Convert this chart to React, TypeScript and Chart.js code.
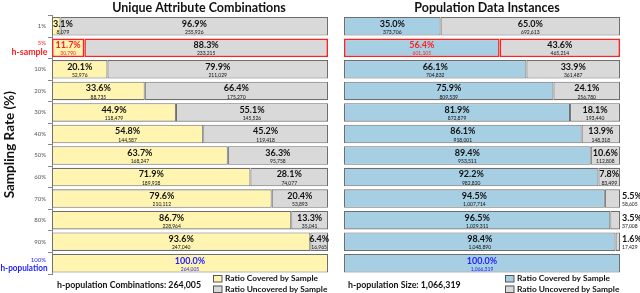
import React, { useEffect, useRef } from 'react';
import { Chart, registerables } from 'chart.js';
Chart.register(...registerables);

const rates = ['1%', '5%', '10%', '20%', '30%', '40%', '50%', '60%', '70%', '80%', '90%', '100%'];

const comboCoveredPct = [3.1, 11.7, 20.1, 33.6, 44.9, 54.8, 63.7, 71.9, 79.6, 86.7, 93.6, 100.0];
const comboUncoveredPct = [96.9, 88.3, 79.9, 66.4, 55.1, 45.2, 36.3, 28.1, 20.4, 13.3, 6.4, 0];
const comboCoveredCount = [8079, 30790, 52976, 88735, 118479, 144587, 168247, 189928, 210112, 228964, 247040, 264005];
const comboUncoveredCount = [255926, 233215, 211029, 175270, 145526, 119418, 95758, 74077, 53893, 35041, 16965, 0];

const instCoveredPct = [35.0, 56.4, 66.1, 75.9, 81.9, 86.1, 89.4, 92.2, 94.5, 96.5, 98.4, 100.0];
const instUncoveredPct = [65.0, 43.6, 33.9, 24.1, 18.1, 13.9, 10.6, 7.8, 5.5, 3.5, 1.6, 0];
const instCoveredCount = [373706, 601105, 704832, 809539, 872879, 918001, 953511, 982820, 1007714, 1029311, 1048890, 1066319];
const instUncoveredCount = [692613, 465214, 361487, 256780, 193440, 148318, 112808, 83499, 58605, 37008, 17429, 0];

const comboTotal = 264005;
const instTotal = 1066319;

const FONT = 'Lato, "Open Sans", sans-serif';
const YELLOW = '#fff5b1';
const GRAY = '#d9d9d9';
const BLUE = '#a6cfe3';
const EDGE = '#6e6e6e';
const RED = '#ff2020';
const BLUEFONT = '#2222ff';
const SAMPLE_IDX = 1;
const POP_IDX = 11;

const fmt = (n: number) => n.toLocaleString('en-US');

function borderColors() {
  return rates.map((_, i) => (i === SAMPLE_IDX ? RED : EDGE));
}
function borderWidths() {
  return rates.map((_, i) => (i === SAMPLE_IDX ? 1.6 : 1.1));
}

interface PanelCfg {
  title: string;
  titleX: number;
  coveredPct: number[];
  uncoveredPct: number[];
  coveredCount: number[];
  uncoveredCount: number[];
  allowOutside: boolean;
  fill: string;
  isLeft: boolean;
  footer: string;
  footerX: number;
  legendX: number;
}

const PCT_FONT = `bold 9px ${FONT}`;

function drawPair(ctx: CanvasRenderingContext2D, cx: number, yc: number, pct: string, cnt: string, color: string, align: CanvasTextAlign) {
  ctx.save();
  ctx.fillStyle = color;
  ctx.textAlign = align;
  ctx.textBaseline = 'middle';
  ctx.font = PCT_FONT;
  ctx.fillText(pct, cx, yc - 2.5);
  ctx.font = `5px ${FONT}`;
  ctx.fillText(cnt, cx, yc + 6);
  ctx.restore();
}

// right-aligned text, horizontally condensed to at most maxW
function drawNarrowRight(ctx: CanvasRenderingContext2D, text: string, x: number, y: number, maxW: number) {
  const w = ctx.measureText(text).width;
  const sx = w > maxW ? maxW / w : 1;
  ctx.save();
  ctx.translate(x, y);
  ctx.scale(sx, 1);
  ctx.textAlign = 'right';
  ctx.fillText(text, 0, 0);
  ctx.restore();
}

function makePlugin(cfg: PanelCfg) {
  return {
    id: 'panelDecor',
    afterDatasetsDraw(chart: any) {
      const ctx: CanvasRenderingContext2D = chart.ctx;
      const area = chart.chartArea;
      const xs = chart.scales.x;
      const ys = chart.scales.y;
      const x0 = xs.getPixelForValue(0);
      const x2 = xs.getPixelForValue(100);
      rates.forEach((_, i) => {
        const yc = ys.getPixelForValue(i);
        const x1 = xs.getPixelForValue(cfg.coveredPct[i]);
        const covColor = i === SAMPLE_IDX ? RED : i === POP_IDX ? BLUEFONT : '#111';
        const pctA = cfg.coveredPct[i].toFixed(1) + '%';
        const cntA = fmt(cfg.coveredCount[i]);
        ctx.font = PCT_FONT;
        const twA = ctx.measureText(pctA).width;
        let cxA = (x0 + x1) / 2;
        if (x1 - x0 < twA + 2) cxA = Math.max(cxA, x0 + twA / 2 + 1);
        drawPair(ctx, cxA, yc, pctA, cntA, covColor, 'center');
        if (cfg.uncoveredPct[i] > 0) {
          const pctB = cfg.uncoveredPct[i].toFixed(1) + '%';
          const cntB = fmt(cfg.uncoveredCount[i]);
          ctx.font = PCT_FONT;
          const twB = ctx.measureText(pctB).width;
          if (cfg.allowOutside && x2 - x1 < twB) {
            drawPair(ctx, x2 + 2, yc, pctB, cntB, '#111', 'left');
          } else {
            drawPair(ctx, (x1 + x2) / 2, yc, pctB, cntB, '#111', 'center');
          }
        }
      });

      // title
      ctx.save();
      ctx.fillStyle = '#111';
      ctx.textAlign = 'center';
      ctx.textBaseline = 'middle';
      ctx.font = `bold 12.5px ${FONT}`;
      ctx.fillText(cfg.title, cfg.titleX, 7.5);
      ctx.restore();

      if (cfg.isLeft) {
        // special y tick labels
        const lx = area.left - 6;
        ctx.save();
        ctx.textAlign = 'right';
        ctx.textBaseline = 'middle';
        let yc = ys.getPixelForValue(SAMPLE_IDX);
        ctx.fillStyle = RED;
        ctx.font = `6px ${FONT}`;
        ctx.fillText(rates[SAMPLE_IDX], lx, yc - 5);
        ctx.font = `bold 9px ${FONT}`;
        drawNarrowRight(ctx, 'h-sample', lx + 1.5, yc + 4.5, 36);
        yc = ys.getPixelForValue(POP_IDX);
        ctx.fillStyle = BLUEFONT;
        ctx.font = `6px ${FONT}`;
        ctx.fillText(rates[POP_IDX], lx, yc - 3.5);
        ctx.font = `bold 9px ${FONT}`;
        drawNarrowRight(ctx, 'h-population', lx + 1.5, yc + 4.5, 47);
        ctx.restore();

        // y axis title
        ctx.save();
        ctx.translate(10, (area.top + area.bottom) / 2);
        ctx.rotate(-Math.PI / 2);
        ctx.textAlign = 'center';
        ctx.textBaseline = 'middle';
        ctx.fillStyle = '#111';
        ctx.font = `bold 13.5px ${FONT}`;
        ctx.fillText('Sampling Rate (%)', 0, 0);
        ctx.restore();
      }

      // footer text
      ctx.save();
      ctx.fillStyle = '#111';
      ctx.textAlign = 'left';
      ctx.textBaseline = 'middle';
      ctx.font = `bold 8.8px ${FONT}`;
      ctx.fillText(cfg.footer, cfg.footerX, 285.5);
      // legend
      const items = [
        { c: cfg.fill, t: 'Ratio Covered by Sample', y: 278.5 },
        { c: GRAY, t: 'Ratio Uncovered by Sample', y: 289 },
      ];
      items.forEach((it) => {
        ctx.fillStyle = it.c;
        ctx.fillRect(cfg.legendX, it.y - 3.5, 9, 7);
        ctx.strokeStyle = '#555';
        ctx.lineWidth = 1;
        ctx.strokeRect(cfg.legendX + 0.5, it.y - 3.5 + 0.5, 8.5, 6.5);
        ctx.fillStyle = '#111';
        ctx.font = `bold 8.4px ${FONT}`;
        ctx.fillText(it.t, cfg.legendX + 12, it.y);
      });
      ctx.restore();
    },
  };
}

function Panel({ cfg, width, left, padLeft, padRight }: { cfg: PanelCfg; width: number; left: number; padLeft: number; padRight: number }) {
  const ref = useRef<HTMLCanvasElement | null>(null);
  useEffect(() => {
    if (!ref.current) return;
    const chart = new Chart(ref.current, {
      type: 'bar',
      data: {
        labels: rates,
        datasets: [
          {
            label: 'Ratio Covered by Sample',
            data: cfg.coveredPct,
            backgroundColor: cfg.fill,
            borderColor: borderColors(),
            borderWidth: borderWidths(),
            borderSkipped: false,
            barPercentage: 0.86,
            categoryPercentage: 1,
          },
          {
            label: 'Ratio Uncovered by Sample',
            data: cfg.uncoveredPct,
            backgroundColor: GRAY,
            borderColor: borderColors(),
            borderWidth: borderWidths(),
            borderSkipped: false,
            barPercentage: 0.86,
            categoryPercentage: 1,
          },
        ],
      },
      options: {
        indexAxis: 'y',
        responsive: false,
        animation: false,
        layout: { padding: { left: padLeft, right: padRight, top: 15.5, bottom: 19 } },
        plugins: { legend: { display: false }, title: { display: false }, tooltip: { enabled: false } },
        scales: {
          x: { stacked: true, min: 0, max: 100, display: false },
          y: {
            stacked: true,
            display: cfg.isLeft,
            afterFit: (scale: any) => {
              scale.width = cfg.isLeft ? 52 : 0;
            },
            grid: { display: true, drawOnChartArea: false, drawTicks: true, tickLength: 4, color: '#888' },
            border: { display: true, color: '#888' },
            ticks: {
              padding: 2,
              color: '#555',
              font: { family: FONT, size: 6 },
              callback: (_v: any, i: number) => (i === SAMPLE_IDX || i === POP_IDX ? '' : rates[i]),
            },
          },
        },
      } as any,
      plugins: [makePlugin(cfg)],
    });
    return () => chart.destroy();
  }, []);
  return (
    <canvas
      ref={ref}
      width={width}
      height={293}
      style={{ position: 'absolute', left, top: 0, width, height: 293 }}
    />
  );
}

export default function App() {
  const leftCfg: PanelCfg = {
    title: 'Unique Attribute Combinations',
    titleX: 199,
    coveredPct: comboCoveredPct,
    uncoveredPct: comboUncoveredPct,
    coveredCount: comboCoveredCount,
    uncoveredCount: comboUncoveredCount,
    allowOutside: false,
    fill: YELLOW,
    isLeft: true,
    footer: 'h-population Combinations: ' + fmt(comboTotal),
    footerX: 57,
    legendX: 213,
  };
  const rightCfg: PanelCfg = {
    title: 'Population Data Instances',
    titleX: 487 - 336,
    coveredPct: instCoveredPct,
    uncoveredPct: instUncoveredPct,
    coveredCount: instCoveredCount,
    uncoveredCount: instUncoveredCount,
    allowOutside: true,
    fill: BLUE,
    isLeft: false,
    footer: 'h-population Size: ' + fmt(instTotal),
    footerX: 348 - 336,
    legendX: 505 - 336,
  };
  return (
    <div style={{ position: 'fixed', left: 0, top: 0, width: 640, height: 293, background: '#fff', overflow: 'hidden' }}>
      <Panel cfg={leftCfg} width={336} left={0} padLeft={0} padRight={8} />
      <Panel cfg={rightCfg} width={304} left={336} padLeft={8} padRight={20} />
    </div>
  );
}
